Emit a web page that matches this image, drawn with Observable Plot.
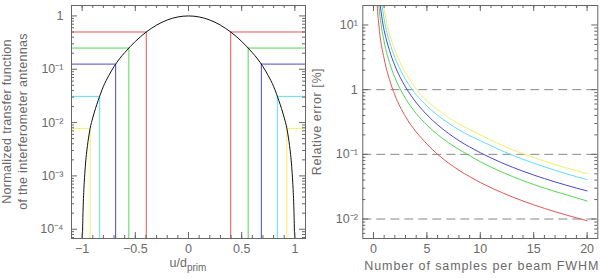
<!DOCTYPE html>
<html>
<head>
<meta charset="utf-8">
<script src="https://cdn.jsdelivr.net/npm/d3@7"></script>
<script src="https://cdn.jsdelivr.net/npm/@observablehq/plot@0.6"></script>
<style>
  html, body { margin: 0; padding: 0; background: #fff; }
  #wrap { position: relative; width: 600px; height: 278px; overflow: hidden; }
  #wrap svg { position: absolute; top: 0; }
</style>
</head>
<body>
<div id="wrap"></div>
<script>
// ---------- Left panel data ----------
const uValues = [-0.998, -0.995, -0.99, -0.985, -0.98, -0.97, -0.96, -0.95, -0.94, -0.925, -0.9, -0.875, -0.85, -0.8, -0.75, -0.7, -0.65, -0.6, -0.55, -0.5, -0.45, -0.4, -0.35, -0.3, -0.25, -0.2, -0.15, -0.1, -0.05,
  0, 0.05, 0.1, 0.15, 0.2, 0.25, 0.3, 0.35, 0.4, 0.45, 0.5, 0.55, 0.6, 0.65, 0.7, 0.75, 0.8, 0.85, 0.875, 0.9, 0.925, 0.94, 0.95, 0.96, 0.97, 0.98, 0.985, 0.99, 0.995, 0.998];
const transferValues = [0.0000447, 0.00011, 0.000275, 0.00049, 0.000759, 0.00151, 0.00251, 0.00372, 0.00513, 0.00776, 0.0123, 0.0182, 0.0257, 0.0478, 0.0758, 0.112, 0.156, 0.205, 0.264, 0.333, 0.410, 0.495, 0.583, 0.673, 0.760, 0.839, 0.906, 0.957, 0.989,
  1, 0.989, 0.957, 0.906, 0.839, 0.760, 0.673, 0.583, 0.495, 0.410, 0.333, 0.264, 0.205, 0.156, 0.112, 0.0758, 0.0478, 0.0257, 0.0182, 0.0123, 0.00776, 0.00513, 0.00372, 0.00251, 0.00151, 0.000759, 0.00049, 0.000275, 0.00011, 0.0000447];
const thresholdLevels = [0.5, 0.25, 0.125, 0.031, 0.0078];
const thresholdCuts = [0.397, 0.561, 0.685, 0.835, 0.925];
const seriesColors = ["#e25555", "#55d455", "#4848cc", "#60dcf2", "#f2ee66"];

const leftXMajor = [-1, -0.5, 0, 0.5, 1];
const leftXLabels = ["\u22121", "\u22120.5", "0", "0.5", "1"];
const leftXMinor = [-1.0, -0.9, -0.8, -0.7, -0.6, -0.5, -0.4, -0.3, -0.2, -0.1, 0, 0.1, 0.2, 0.3, 0.4, 0.5, 0.6, 0.7, 0.8, 0.9, 1.0];
const leftYMajor = [1, 0.1, 0.01, 0.001, 0.0001];
const leftYLabels = ["1", "10\u207B\u00B9", "10\u207B\u00B2", "10\u207B\u00B3", "10\u207B\u2074"];
const leftYMinor = [0.00007, 0.00008, 0.00009, 0.0002, 0.0003, 0.0004, 0.0005, 0.0006, 0.0007, 0.0008, 0.0009,
  0.002, 0.003, 0.004, 0.005, 0.006, 0.007, 0.008, 0.009, 0.02, 0.03, 0.04, 0.05, 0.06, 0.07, 0.08, 0.09,
  0.2, 0.3, 0.4, 0.5, 0.6, 0.7, 0.8, 0.9];

// ---------- Right panel data ----------
const nRed = [0.29, 0.35, 0.5, 1, 1.5, 2, 3, 4, 5, 6, 7, 8, 9, 10, 12, 14, 16, 18, 20];
const errRed = [30, 20, 10, 3.0, 1.43, 0.827, 0.383, 0.222, 0.145, 0.1, 0.074, 0.0569, 0.0452, 0.0367, 0.0257, 0.019, 0.0146, 0.0116, 0.0094];
const nGreen = [0.4, 0.5, 0.72, 1, 1.5, 2, 2.53, 3, 4, 5, 6, 7, 8, 9, 10, 12, 14, 16, 18, 20];
const errGreen = [30, 20, 10, 5.48, 2.62, 1.54, 1, 0.73, 0.428, 0.284, 0.202, 0.152, 0.119, 0.0955, 0.0769, 0.0534, 0.0392, 0.0301, 0.0238, 0.019];
const nBlue = [0.52, 0.64, 0.9, 1, 1.5, 2, 2.5, 3, 4, 5, 6, 7, 8, 9, 10, 12, 14, 16, 18, 20];
const errBlue = [30, 20, 10, 8.24, 4.03, 2.35, 1.55, 1.10, 0.631, 0.409, 0.286, 0.212, 0.163, 0.130, 0.106, 0.0741, 0.0548, 0.0422, 0.0335, 0.0272];
const nCyan = [0.66, 0.8, 1.1, 1.5, 2, 2.5, 3, 3.62, 4, 5, 6, 7, 8, 9, 10, 12, 14, 16, 18, 20];
const errCyan = [30, 20, 10, 5.5, 3.15, 2.05, 1.44, 1, 0.835, 0.56, 0.403, 0.305, 0.24, 0.194, 0.163, 0.114, 0.0838, 0.0641, 0.0504, 0.0406];
const nYellow = [0.78, 0.94, 1.28, 1.5, 2, 2.5, 3, 3.5, 4, 5, 6, 7, 8, 9, 10, 12, 14, 16, 18, 20];
const errYellow = [30, 20, 10, 7.28, 4.1, 2.62, 1.82, 1.34, 1.02, 0.676, 0.491, 0.374, 0.296, 0.241, 0.2, 0.139, 0.102, 0.0785, 0.062, 0.0503];
const dashedLevels = [1, 0.1, 0.01];

const rightXMajor = [0, 5, 10, 15, 20];
const rightXLabels = ["0", "5", "10", "15", "20"];
const rightXMinor = [0, 1, 2, 3, 4, 5, 6, 7, 8, 9, 10, 11, 12, 13, 14, 15, 16, 17, 18, 19, 20];
const rightYMajor = [10, 1, 0.1, 0.01];
const rightYLabels = ["10\u00B9", "1", "10\u207B\u00B9", "10\u207B\u00B2"];
const rightYMinor = [0.006, 0.007, 0.008, 0.009, 0.02, 0.03, 0.04, 0.05, 0.06, 0.07, 0.08, 0.09,
  0.2, 0.3, 0.4, 0.5, 0.6, 0.7, 0.8, 0.9, 2, 3, 4, 5, 6, 7, 8, 9];

// ---------- common ----------
const FONT = "Liberation Sans, Arial, sans-serif";
const AXC = "#666";
const TXT = "#6a6a6a";
const H = 278, MT = 5, MB = 40;
const innerH = H - MT - MB;
const MAJ = 6, MIN = 3;

function tickMarks(xMaj, xMin, yMaj, yMin, innerW) {
  return [
    Plot.ruleX(xMaj, {x: d => d, insetTop: innerH - MAJ, stroke: AXC}),
    Plot.ruleX(xMaj, {x: d => d, insetBottom: innerH - MAJ, stroke: AXC}),
    Plot.ruleX(xMin, {x: d => d, insetTop: innerH - MIN, stroke: AXC}),
    Plot.ruleX(xMin, {x: d => d, insetBottom: innerH - MIN, stroke: AXC}),
    Plot.ruleY(yMaj, {y: d => d, insetRight: innerW - MAJ, stroke: AXC}),
    Plot.ruleY(yMaj, {y: d => d, insetLeft: innerW - MAJ, stroke: AXC}),
    Plot.ruleY(yMin, {y: d => d, insetRight: innerW - MIN, stroke: AXC}),
    Plot.ruleY(yMin, {y: d => d, insetLeft: innerW - MIN, stroke: AXC})
  ];
}

// ---------- Left plot ----------
const LW = 310, LML = 71, LMR = 5;
const leftInnerW = LW - LML - LMR;
const curve = uValues.map((u, i) => ({u, v: transferValues[i]}));
const thr = thresholdLevels.map((t, i) => ({t, c: thresholdCuts[i], color: seriesColors[i]}));
const yMinL = 6.7e-5;

const leftPlot = Plot.plot({
  width: LW, height: H,
  marginLeft: LML, marginRight: LMR, marginTop: MT, marginBottom: MB,
  x: {domain: [-1.1, 1.1], axis: null},
  y: {type: "log", domain: [yMinL, 1.57], axis: null},
  style: {background: "transparent", fontFamily: FONT, fontSize: "12.5px", overflow: "visible"},
  marks: [
    Plot.ruleY(thr, {y: "t", x1: -1.1, x2: d => -d.c, stroke: "color", strokeWidth: 1}),
    Plot.ruleY(thr, {y: "t", x1: d => d.c, x2: 1.1, stroke: "color", strokeWidth: 1}),
    Plot.ruleX(thr, {x: d => -d.c, y1: yMinL, y2: "t", stroke: "color", strokeWidth: 1}),
    Plot.ruleX(thr, {x: d => d.c, y1: yMinL, y2: "t", stroke: "color", strokeWidth: 1}),
    Plot.line(curve, {x: "u", y: "v", stroke: "#111", strokeWidth: 1, curve: "monotone-x", clip: true}),
    Plot.frame({stroke: AXC}),
    ...tickMarks(leftXMajor, leftXMinor, leftYMajor, leftYMinor, leftInnerW),
    Plot.text(leftXMajor, {x: d => d, frameAnchor: "bottom", dy: 14, text: (d, i) => leftXLabels[i], fill: TXT}),
    Plot.text(leftYMajor, {y: d => d, frameAnchor: "left", dx: -8, textAnchor: "end", text: (d, i) => leftYLabels[i], fill: TXT})
  ]
});
leftPlot.style.left = "0px";
document.getElementById("wrap").appendChild(leftPlot);

// ---------- Right plot ----------
const RW = 290, RML = 52.3, RMR = 2.7;
const rightInnerW = RW - RML - RMR;
const series = [
  {n: nRed, e: errRed, color: seriesColors[0]},
  {n: nGreen, e: errGreen, color: seriesColors[1]},
  {n: nBlue, e: errBlue, color: seriesColors[2]},
  {n: nCyan, e: errCyan, color: seriesColors[3]},
  {n: nYellow, e: errYellow, color: seriesColors[4]}
];
const rightMarks = [
  Plot.ruleY(dashedLevels, {y: d => d, stroke: "#888", strokeDasharray: "9,5", strokeWidth: 1})
];
for (const s of series.slice().reverse()) {
  const pts = s.n.map((n, i) => ({n, e: s.e[i]}));
  rightMarks.push(Plot.line(pts, {x: "n", y: "e", stroke: s.color, strokeWidth: 1, curve: "monotone-x", clip: true}));
}
const rightPlot = Plot.plot({
  width: RW, height: H,
  marginLeft: RML, marginRight: RMR, marginTop: MT, marginBottom: MB,
  x: {domain: [-1, 21], axis: null},
  y: {type: "log", domain: [0.005, 20], axis: null},
  style: {background: "transparent", fontFamily: FONT, fontSize: "12.5px", overflow: "visible"},
  marks: [
    ...rightMarks,
    Plot.frame({stroke: AXC}),
    ...tickMarks(rightXMajor, rightXMinor, rightYMajor, rightYMinor, rightInnerW),
    Plot.text(rightXMajor, {x: d => d, frameAnchor: "bottom", dy: 14, text: (d, i) => rightXLabels[i], fill: TXT}),
    Plot.text(rightYMajor, {y: d => d, frameAnchor: "left", dx: -5, textAnchor: "end", text: (d, i) => rightYLabels[i], fill: TXT})
  ]
});
rightPlot.style.left = LW + "px";
document.getElementById("wrap").appendChild(rightPlot);

// ---------- Axis titles ----------
const midY = MT + innerH / 2;
const L = d3.select(leftPlot);
function vtitle(sel, x, txt, ls) {
  sel.append("text")
    .attr("transform", `translate(${x},${midY}) rotate(-90)`)
    .attr("text-anchor", "middle")
    .attr("dominant-baseline", "middle")
    .attr("fill", TXT)
    .attr("font-family", FONT)
    .attr("font-size", "12.5px")
    .attr("letter-spacing", ls)
    .text(txt);
}
vtitle(L, 8, "Normalized transfer function", "0.3px");
vtitle(L, 24, "of the interferometer antennas", "0.3px");
const ux = L.append("text")
  .attr("x", LML + leftInnerW / 2)
  .attr("y", 267)
  .attr("text-anchor", "middle")
  .attr("fill", TXT)
  .attr("font-family", FONT)
  .attr("font-size", "12.5px");
ux.append("tspan").text("u/d");
ux.append("tspan").attr("dy", 4).attr("font-size", "10px").text("prim");

const R = d3.select(rightPlot);
vtitle(R, 8, "Relative error [%]", "0.6px");
R.append("text")
  .attr("x", RML + rightInnerW / 2 + 2)
  .attr("y", 270)
  .attr("text-anchor", "middle")
  .attr("fill", TXT)
  .attr("font-family", FONT)
  .attr("font-size", "12.5px")
  .attr("letter-spacing", "0.9px")
  .text("Number of samples per beam FWHM");
</script>
</body>
</html>
